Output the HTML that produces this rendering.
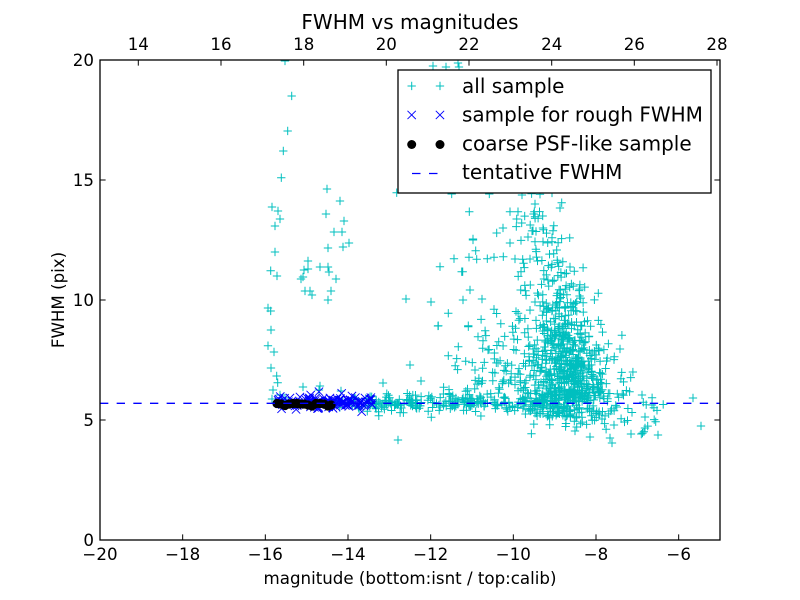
<!DOCTYPE html>
<html><head><meta charset="utf-8">
<style>
html,body{margin:0;padding:0;background:#fff;}
svg{display:block;}
text{font-family:"DejaVu Sans","Liberation Sans",sans-serif;fill:#000;}
</style></head><body>
<svg id="s" width="800" height="600" viewBox="0 0 800 600" xmlns="http://www.w3.org/2000/svg">
<rect width="800" height="600" fill="#fff"/>
<defs><clipPath id="cp"><rect x="100" y="60" width="620" height="480"/></clipPath></defs>
<g clip-path="url(#cp)">
<path id="cy" fill="none" stroke="#00bfbf" stroke-width="1" d=""/>
<path id="bx" fill="none" stroke="#0000ff" stroke-width="0.9" d=""/>
<g id="dots" fill="#000"></g>
<line x1="100" y1="403.3" x2="720" y2="403.3" stroke="#0000ff" stroke-width="1.3" stroke-dasharray="8.33 8.33"/>
</g>
<rect x="100" y="60" width="620" height="480" fill="none" stroke="#000" stroke-width="1.3"/>
<g stroke="#000" stroke-width="1">
<path d="M182.67 540v-5.6M265.33 540v-5.6M348 540v-5.6M430.67 540v-5.6M513.33 540v-5.6M596 540v-5.6M678.67 540v-5.6"/>
<path d="M138.3 60v5.6M221 60v5.6M303.7 60v5.6M386.3 60v5.6M469 60v5.6M551.7 60v5.6M634.3 60v5.6M717 60v5.6"/>
<path d="M100 420h5.6M100 300h5.6M100 180h5.6M720 420h-5.6M720 300h-5.6M720 180h-5.6"/>
</g>
<g font-size="16.67" text-anchor="middle">
<text x="100" y="560">−20</text>
<text x="182.67" y="560">−18</text>
<text x="265.33" y="560">−16</text>
<text x="348" y="560">−14</text>
<text x="430.67" y="560">−12</text>
<text x="513.33" y="560">−10</text>
<text x="596" y="560">−8</text>
<text x="678.67" y="560">−6</text>
<text x="138.3" y="50">14</text>
<text x="221" y="50">16</text>
<text x="303.7" y="50">18</text>
<text x="386.3" y="50">20</text>
<text x="469" y="50">22</text>
<text x="551.7" y="50">24</text>
<text x="634.3" y="50">26</text>
<text x="717" y="50">28</text>
</g>
<g font-size="16.67" text-anchor="end">
<text x="94" y="546">0</text>
<text x="94" y="426">5</text>
<text x="94" y="306">10</text>
<text x="94" y="186">15</text>
<text x="94" y="66">20</text>
</g>
<text x="410" y="29" font-size="20" text-anchor="middle">FWHM vs magnitudes</text>
<text x="410" y="584" font-size="16.67" text-anchor="middle">magnitude (bottom:isnt / top:calib)</text>
<text transform="translate(64,300) rotate(-90)" font-size="16.67" text-anchor="middle">FWHM (pix)</text>
<rect x="398" y="70" width="313" height="123" fill="#fff" stroke="#000" stroke-width="1.3"/>
<path d="M407.5 86h8.33M411.7 81.8v8.33M435.8 86h8.33M440 81.8v8.33" stroke="#00bfbf" stroke-width="1" fill="none"/>
<path d="M407.5 110.8l8.33 8.33M407.5 119.1l8.33 -8.33M435.8 110.8l8.33 8.33M435.8 119.1l8.33 -8.33" stroke="#0000ff" stroke-width="0.9" fill="none"/>
<circle cx="411.7" cy="144.5" r="4.5" fill="#000"/>
<circle cx="440" cy="144.5" r="4.5" fill="#000"/>
<path d="M412 173.5h8.5M429 173.5h8.5" stroke="#0000ff" stroke-width="1.3"/>
<g font-size="20">
<text x="462" y="93">all sample</text>
<text x="462" y="121.7">sample for rough FWHM</text>
<text x="462" y="150.4">coarse PSF-like sample</text>
<text x="462" y="179.1">tentative FWHM</text>
</g>
</svg>
<script>
(function(){
function mb(a){return function(){a|=0;a=a+0x6D2B79F5|0;var t=Math.imul(a^a>>>15,1|a);t=t+Math.imul(t^t>>>7,61|t)^t;return((t^t>>>14)>>>0)/4294967296;};}
var R=mb(20240611);
function N(){var u=1-R(),v=R();return Math.sqrt(-2*Math.log(u))*Math.cos(2*Math.PI*v);}
var cp=[];function P(x,y){cp.push([x,y]);}
var man=[[285,61],[291.7,96],[287.7,131],[283.3,151],[281.3,177.7],[272,207],[278,211],[280,219],[275,226],[275,252],[270.7,270.7],[277,276],[268,308],[270.7,311],[271,330],[268,345.7],[274,352],[271,368],[276.7,376],[277.7,382.7],[273,390],
[327,189],[340,201],[326,214],[344,221],[334,232],[342,232],[349,243],[343,247],[328,248],[308,261],[304,270],[308,269],[320,267],[328,267],[329,272],[336,279],[301,279],[303,277],[305,291],[310,291],[312,295],[331,291],[328,300],
[303,387],[320,386],[319,390],[341,391],[383,383],[421,381],[410,365],[406,299],[431,302],[438,326],[398,440],
[433,66],[446,67],[458,63],[459,67],
[396.7,192.7],[451.7,194],[489.3,194],[522,195],[540,194.3],[552,193],[561.7,202.7],[560,208],[535,204],[469.3,211.7],[510,211.7],[518,211.7],[542.7,216],[535,216.7],[516.7,219],[521.7,223],[503,228],[533,230.7],[543,228],[553,230.7],[496.7,233],[473,239],[510,243],[528,237],[535,241.7],[543,241.7],[552,241.7],[475.7,250.7],[454,258.7],[469,257.3],[476.7,259.3],[487.3,258.7],[494,257.3],[503.3,256.7],[515,259],[522.7,259.3],[530,259],[440,266.7],[462.7,271.7],[598.3,293.3],[570,267],[448.3,313.3],[438.3,325.7],[468.3,325.7],[458.3,346.7],[448.3,355.7],
[475,370],[481.7,383.3],[468.3,326.7],[478,336.7],[488,350],[498,363],[461.7,271.7],[470,290],[463,300],[473,240],
[693,398],[701,426],[658,435],[631,434],[614,425],[645,417],[280,395],[285,398],[272,399],
[642,395],[652,405],[645,428],[610,438],[612,443],[575,431],[590,437]];
man.forEach(function(p){P(p[0],p[1]);});
var i,h,x,y;
for(i=0;i<220;i++){x=375+R()*190;y=403+N()*(R()<0.12?8:3.5);P(x,y);}
for(i=0;i<25;i++){x=335+R()*40;y=403+N()*3.5;P(x,y);}
for(i=0;i<500;i++){h=Math.abs(N()*60);if(h>170)h=170*R();x=572-0.1*h+N()*(18-0.06*h);y=403-h;P(x,y);}
for(i=0;i<280;i++){h=-55*Math.log(1-R());if(h>215)h=215*R();var c=545-0.05*h;var hw=Math.max(12,115-0.5*h);x=c+(R()+R()-1)*hw;y=403-h;P(x,y);}
for(i=0;i<110;i++){var d=Math.abs(N()*11);if(d>38)d=38*R();y=405+d;x=565+N()*25+d*0.9;P(x,y);}
for(i=0;i<12;i++){x=600+R()*65;y=385+R()*50;P(x,y);}
var s='';
cp.forEach(function(p){s+='M'+(p[0]-4.17).toFixed(1)+' '+p[1].toFixed(1)+'h8.33M'+p[0].toFixed(1)+' '+(p[1]-4.17).toFixed(1)+'v8.33';});
document.getElementById('cy').setAttribute('d',s);
var bx=[[319,391.7],[341.7,393.3],[310.7,395],[361.7,411.7],[300,397],[330,398],[352,396],[365,398],[290,398]];
for(i=0;i<120;i++){bx.push([278+R()*94,403+N()*2.5]);}
var b='';
bx.forEach(function(p){b+='M'+(p[0]-4.17).toFixed(1)+' '+(p[1]-4.17).toFixed(1)+'l8.33 8.33M'+(p[0]-4.17).toFixed(1)+' '+(p[1]+4.17).toFixed(1)+'l8.33 -8.33';});
document.getElementById('bx').setAttribute('d',b);
var dots=[[277,403.5],[281,404],[285,405.5],[289,404],[293,403.5],[297,403.5],[300,404],[304,404],[308,405],[312,406],[316,403.5],[320,403.5],[324,404],[328,406],[331,405]];
var g=document.getElementById('dots'),ns='http://www.w3.org/2000/svg';
dots.forEach(function(p){var e=document.createElementNS(ns,'circle');e.setAttribute('cx',p[0]);e.setAttribute('cy',p[1]);e.setAttribute('r','4.6');g.appendChild(e);});
})();
</script>
</body></html>
